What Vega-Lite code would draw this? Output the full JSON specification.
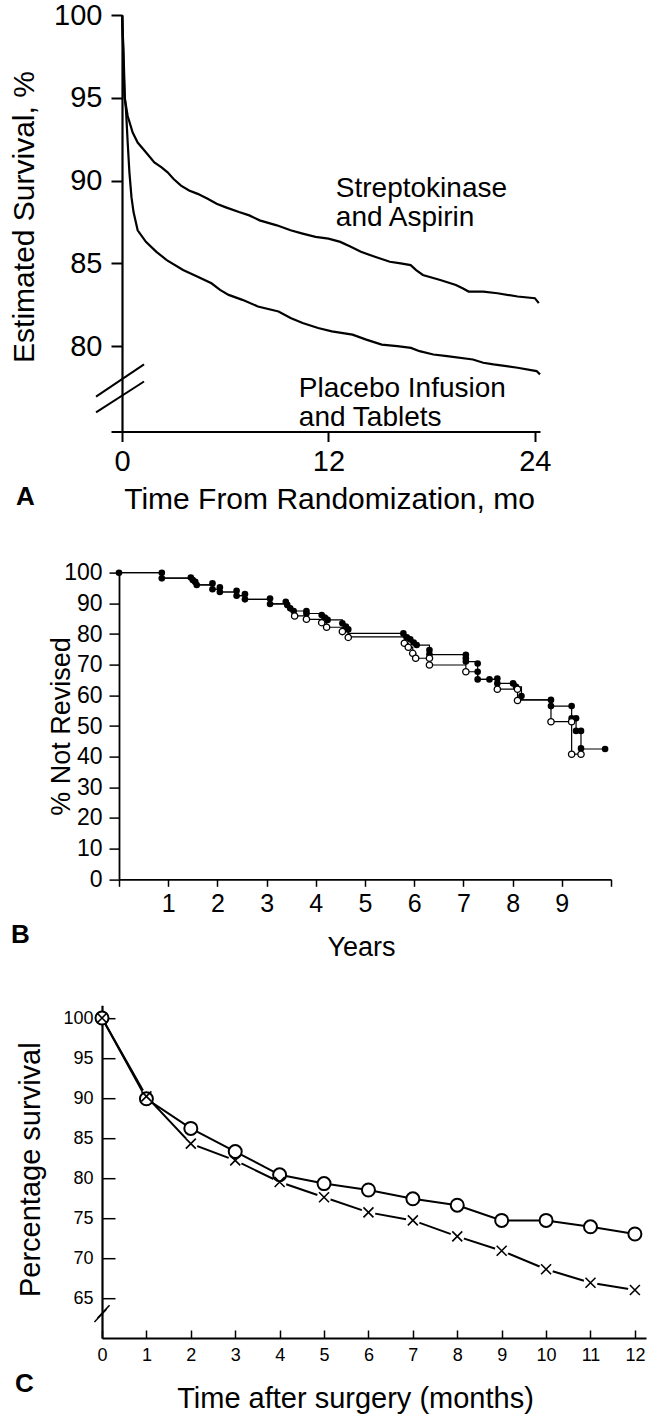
{
  "$schema": "https://vega.github.io/schema/vega-lite/v6.json",
  "padding": {"left": 8, "top": 1, "right": 4, "bottom": 4},
  "background": "white",
  "bounds": "flush",
  "spacing": 125.6,
  "config": {
    "view": {"stroke": null},
    "axis": {"grid": false, "domainColor": "#000", "tickColor": "#000", "labelColor": "#000", "titleColor": "#000", "labelFont": "Liberation Sans", "titleFont": "Liberation Sans", "titleFontWeight": "normal", "labelOverlap": false, "labelFlush": false},
    "title": {"font": "Liberation Sans", "color": "#000"},
    "text": {"font": "Liberation Sans", "color": "#000"}
  },
  "datasets": {
    "a_curves": [
      {"series": "Streptokinase and Aspirin", "t": 0, "v": 100}, {"series": "Streptokinase and Aspirin", "t": 0.05, "v": 98.5}, {"series": "Streptokinase and Aspirin", "t": 0.14, "v": 95.1}, {"series": "Streptokinase and Aspirin", "t": 0.33, "v": 93.9}, {"series": "Streptokinase and Aspirin", "t": 0.62, "v": 92.9}, {"series": "Streptokinase and Aspirin", "t": 0.91, "v": 92.3}, {"series": "Streptokinase and Aspirin", "t": 1.4, "v": 91.7}, {"series": "Streptokinase and Aspirin", "t": 1.88, "v": 91.1}, {"series": "Streptokinase and Aspirin", "t": 2.3, "v": 90.8}, {"series": "Streptokinase and Aspirin", "t": 2.65, "v": 90.5}, {"series": "Streptokinase and Aspirin", "t": 3.0, "v": 90.1}, {"series": "Streptokinase and Aspirin", "t": 3.43, "v": 89.7}, {"series": "Streptokinase and Aspirin", "t": 3.9, "v": 89.4}, {"series": "Streptokinase and Aspirin", "t": 4.4, "v": 89.2}, {"series": "Streptokinase and Aspirin", "t": 4.98, "v": 88.9}, {"series": "Streptokinase and Aspirin", "t": 5.5, "v": 88.6}, {"series": "Streptokinase and Aspirin", "t": 6.0, "v": 88.4}, {"series": "Streptokinase and Aspirin", "t": 6.8, "v": 88.1}, {"series": "Streptokinase and Aspirin", "t": 7.4, "v": 87.9}, {"series": "Streptokinase and Aspirin", "t": 8.0, "v": 87.6}, {"series": "Streptokinase and Aspirin", "t": 9.0, "v": 87.3}, {"series": "Streptokinase and Aspirin", "t": 9.8, "v": 87.0}, {"series": "Streptokinase and Aspirin", "t": 10.5, "v": 86.8}, {"series": "Streptokinase and Aspirin", "t": 11.25, "v": 86.6}, {"series": "Streptokinase and Aspirin", "t": 12.0, "v": 86.5}, {"series": "Streptokinase and Aspirin", "t": 12.69, "v": 86.3}, {"series": "Streptokinase and Aspirin", "t": 13.3, "v": 86.0}, {"series": "Streptokinase and Aspirin", "t": 13.89, "v": 85.7}, {"series": "Streptokinase and Aspirin", "t": 14.7, "v": 85.4}, {"series": "Streptokinase and Aspirin", "t": 15.57, "v": 85.1}, {"series": "Streptokinase and Aspirin", "t": 16.2, "v": 85.0}, {"series": "Streptokinase and Aspirin", "t": 16.78, "v": 84.9}, {"series": "Streptokinase and Aspirin", "t": 17.1, "v": 84.6}, {"series": "Streptokinase and Aspirin", "t": 17.49, "v": 84.3}, {"series": "Streptokinase and Aspirin", "t": 18.5, "v": 84.0}, {"series": "Streptokinase and Aspirin", "t": 19.41, "v": 83.7}, {"series": "Streptokinase and Aspirin", "t": 19.8, "v": 83.5}, {"series": "Streptokinase and Aspirin", "t": 20.15, "v": 83.3}, {"series": "Streptokinase and Aspirin", "t": 21.0, "v": 83.3}, {"series": "Streptokinase and Aspirin", "t": 21.83, "v": 83.2}, {"series": "Streptokinase and Aspirin", "t": 23.0, "v": 83.0}, {"series": "Streptokinase and Aspirin", "t": 24.0, "v": 82.9}, {"series": "Streptokinase and Aspirin", "t": 24.23, "v": 82.6},
      {"series": "Placebo Infusion and Tablets", "t": 0, "v": 100}, {"series": "Placebo Infusion and Tablets", "t": 0.08, "v": 98.0}, {"series": "Placebo Infusion and Tablets", "t": 0.17, "v": 94.9}, {"series": "Placebo Infusion and Tablets", "t": 0.23, "v": 94.3}, {"series": "Placebo Infusion and Tablets", "t": 0.33, "v": 92.3}, {"series": "Placebo Infusion and Tablets", "t": 0.43, "v": 90.5}, {"series": "Placebo Infusion and Tablets", "t": 0.55, "v": 89.0}, {"series": "Placebo Infusion and Tablets", "t": 0.67, "v": 88.1}, {"series": "Placebo Infusion and Tablets", "t": 0.91, "v": 87.0}, {"series": "Placebo Infusion and Tablets", "t": 1.39, "v": 86.3}, {"series": "Placebo Infusion and Tablets", "t": 2.0, "v": 85.7}, {"series": "Placebo Infusion and Tablets", "t": 2.6, "v": 85.2}, {"series": "Placebo Infusion and Tablets", "t": 3.55, "v": 84.6}, {"series": "Placebo Infusion and Tablets", "t": 4.4, "v": 84.2}, {"series": "Placebo Infusion and Tablets", "t": 5.2, "v": 83.8}, {"series": "Placebo Infusion and Tablets", "t": 5.7, "v": 83.4}, {"series": "Placebo Infusion and Tablets", "t": 6.2, "v": 83.1}, {"series": "Placebo Infusion and Tablets", "t": 7.0, "v": 82.8}, {"series": "Placebo Infusion and Tablets", "t": 7.9, "v": 82.4}, {"series": "Placebo Infusion and Tablets", "t": 9.1, "v": 82.1}, {"series": "Placebo Infusion and Tablets", "t": 9.8, "v": 81.7}, {"series": "Placebo Infusion and Tablets", "t": 10.5, "v": 81.4}, {"series": "Placebo Infusion and Tablets", "t": 11.4, "v": 81.1}, {"series": "Placebo Infusion and Tablets", "t": 12.2, "v": 80.9}, {"series": "Placebo Infusion and Tablets", "t": 13.4, "v": 80.7}, {"series": "Placebo Infusion and Tablets", "t": 14.2, "v": 80.4}, {"series": "Placebo Infusion and Tablets", "t": 15.1, "v": 80.1}, {"series": "Placebo Infusion and Tablets", "t": 16.0, "v": 80.0}, {"series": "Placebo Infusion and Tablets", "t": 16.8, "v": 79.9}, {"series": "Placebo Infusion and Tablets", "t": 17.3, "v": 79.7}, {"series": "Placebo Infusion and Tablets", "t": 18.1, "v": 79.5}, {"series": "Placebo Infusion and Tablets", "t": 18.9, "v": 79.4}, {"series": "Placebo Infusion and Tablets", "t": 20.4, "v": 79.2}, {"series": "Placebo Infusion and Tablets", "t": 21.0, "v": 79.0}, {"series": "Placebo Infusion and Tablets", "t": 21.6, "v": 78.9}, {"series": "Placebo Infusion and Tablets", "t": 23.0, "v": 78.7}, {"series": "Placebo Infusion and Tablets", "t": 24.1, "v": 78.5}, {"series": "Placebo Infusion and Tablets", "t": 24.3, "v": 78.3}
    ],
    "b_lines": [
      {"group": "filled", "year": 0, "v": 100}, {"group": "filled", "year": 0.87, "v": 98.2}, {"group": "filled", "year": 1.46, "v": 97.6}, {"group": "filled", "year": 1.55, "v": 96.0}, {"group": "filled", "year": 1.9, "v": 94.6}, {"group": "filled", "year": 2.05, "v": 93.7}, {"group": "filled", "year": 2.39, "v": 92.5}, {"group": "filled", "year": 2.56, "v": 91.3}, {"group": "filled", "year": 3.07, "v": 89.8}, {"group": "filled", "year": 3.39, "v": 88.9}, {"group": "filled", "year": 3.48, "v": 87.5}, {"group": "filled", "year": 3.81, "v": 86.7}, {"group": "filled", "year": 4.12, "v": 85.8}, {"group": "filled", "year": 4.24, "v": 84.6}, {"group": "filled", "year": 4.54, "v": 82.8}, {"group": "filled", "year": 4.66, "v": 80.2}, {"group": "filled", "year": 5.78, "v": 78.9}, {"group": "filled", "year": 5.92, "v": 77.2}, {"group": "filled", "year": 6.05, "v": 76.4}, {"group": "filled", "year": 6.31, "v": 73.3}, {"group": "filled", "year": 7.05, "v": 71.0}, {"group": "filled", "year": 7.29, "v": 65.2}, {"group": "filled", "year": 7.69, "v": 63.9}, {"group": "filled", "year": 8.07, "v": 62.8}, {"group": "filled", "year": 8.18, "v": 58.5}, {"group": "filled", "year": 8.78, "v": 56.5}, {"group": "filled", "year": 9.2, "v": 52.5}, {"group": "filled", "year": 9.29, "v": 48.4}, {"group": "filled", "year": 9.39, "v": 42.5}, {"group": "filled", "year": 9.88, "v": 42.5},
      {"group": "open", "year": 0, "v": 100}, {"group": "open", "year": 0.87, "v": 98.2}, {"group": "open", "year": 1.46, "v": 97.6}, {"group": "open", "year": 1.55, "v": 96.0}, {"group": "open", "year": 1.9, "v": 94.6}, {"group": "open", "year": 2.05, "v": 93.7}, {"group": "open", "year": 2.39, "v": 92.5}, {"group": "open", "year": 2.56, "v": 91.3}, {"group": "open", "year": 3.07, "v": 89.8}, {"group": "open", "year": 3.39, "v": 88.9}, {"group": "open", "year": 3.48, "v": 87.5}, {"group": "open", "year": 3.57, "v": 85.9}, {"group": "open", "year": 3.81, "v": 84.8}, {"group": "open", "year": 4.12, "v": 83.7}, {"group": "open", "year": 4.22, "v": 82.2}, {"group": "open", "year": 4.54, "v": 80.8}, {"group": "open", "year": 4.66, "v": 79.1}, {"group": "open", "year": 5.8, "v": 77.0}, {"group": "open", "year": 5.88, "v": 75.7}, {"group": "open", "year": 5.97, "v": 73.7}, {"group": "open", "year": 6.03, "v": 72.1}, {"group": "open", "year": 6.31, "v": 69.9}, {"group": "open", "year": 7.05, "v": 67.7}, {"group": "open", "year": 7.29, "v": 65.2}, {"group": "open", "year": 7.69, "v": 62.0}, {"group": "open", "year": 8.1, "v": 58.5}, {"group": "open", "year": 8.78, "v": 51.4}, {"group": "open", "year": 9.2, "v": 40.8}, {"group": "open", "year": 9.39, "v": 40.8}
    ],
    "b_filled": [
      {"year": 0, "v": 100}, {"year": 0.87, "v": 100}, {"year": 0.87, "v": 98.15}, {"year": 1.46, "v": 98.4}, {"year": 1.5, "v": 97.6}, {"year": 1.55, "v": 97.0}, {"year": 1.58, "v": 96.0}, {"year": 1.9, "v": 96.5}, {"year": 1.9, "v": 94.6}, {"year": 2.05, "v": 95.2}, {"year": 2.05, "v": 93.7}, {"year": 2.39, "v": 94.1}, {"year": 2.39, "v": 92.5}, {"year": 2.56, "v": 93.0}, {"year": 2.56, "v": 91.3}, {"year": 3.07, "v": 91.6}, {"year": 3.07, "v": 89.8}, {"year": 3.39, "v": 90.5}, {"year": 3.42, "v": 89.5}, {"year": 3.48, "v": 88.4}, {"year": 3.55, "v": 87.5}, {"year": 3.81, "v": 87.5}, {"year": 3.81, "v": 86.7}, {"year": 4.12, "v": 86.2}, {"year": 4.18, "v": 85.4}, {"year": 4.24, "v": 84.6}, {"year": 4.54, "v": 83.5}, {"year": 4.61, "v": 82.4}, {"year": 4.66, "v": 81.5}, {"year": 5.78, "v": 80.2}, {"year": 5.85, "v": 78.9}, {"year": 5.92, "v": 78.3}, {"year": 5.99, "v": 77.2}, {"year": 6.05, "v": 76.4}, {"year": 6.31, "v": 74.8}, {"year": 6.31, "v": 73.4}, {"year": 7.05, "v": 73.2}, {"year": 7.05, "v": 72.1}, {"year": 7.05, "v": 71.0}, {"year": 7.29, "v": 70.4}, {"year": 7.29, "v": 67.7}, {"year": 7.29, "v": 65.2}, {"year": 7.53, "v": 65.2}, {"year": 7.69, "v": 65.5}, {"year": 7.69, "v": 63.9}, {"year": 8.01, "v": 63.9}, {"year": 8.07, "v": 62.8}, {"year": 8.18, "v": 59.8}, {"year": 8.78, "v": 58.5}, {"year": 8.78, "v": 56.5}, {"year": 9.2, "v": 56.5}, {"year": 9.2, "v": 52.5}, {"year": 9.29, "v": 52.5}, {"year": 9.29, "v": 48.4}, {"year": 9.39, "v": 48.4}, {"year": 9.39, "v": 42.7}, {"year": 9.88, "v": 42.5}
    ],
    "b_open": [
      {"year": 3.57, "v": 85.9}, {"year": 3.81, "v": 84.8}, {"year": 4.12, "v": 83.7}, {"year": 4.22, "v": 82.2}, {"year": 4.54, "v": 80.8}, {"year": 4.66, "v": 78.9}, {"year": 5.8, "v": 77.0}, {"year": 5.88, "v": 75.7}, {"year": 5.97, "v": 73.7}, {"year": 6.03, "v": 72.1}, {"year": 6.31, "v": 72.1}, {"year": 6.31, "v": 69.9}, {"year": 7.05, "v": 67.7}, {"year": 7.69, "v": 62.0}, {"year": 8.1, "v": 62.0}, {"year": 8.1, "v": 58.3}, {"year": 8.78, "v": 51.4}, {"year": 9.2, "v": 51.4}, {"year": 9.2, "v": 40.8}, {"year": 9.39, "v": 40.8}
    ],
    "c_points": [
      {"group": "circle", "t": 0, "v": 100}, {"group": "circle", "t": 1, "v": 89.9}, {"group": "circle", "t": 2, "v": 86.2}, {"group": "circle", "t": 3, "v": 83.3}, {"group": "circle", "t": 4, "v": 80.4}, {"group": "circle", "t": 5, "v": 79.3}, {"group": "circle", "t": 6, "v": 78.5}, {"group": "circle", "t": 7, "v": 77.4}, {"group": "circle", "t": 8, "v": 76.6}, {"group": "circle", "t": 9, "v": 74.7}, {"group": "circle", "t": 10, "v": 74.7}, {"group": "circle", "t": 11, "v": 73.9}, {"group": "circle", "t": 12, "v": 73.0},
      {"group": "cross", "t": 0, "v": 100}, {"group": "cross", "t": 1, "v": 90.2}, {"group": "cross", "t": 2, "v": 84.3}, {"group": "cross", "t": 3, "v": 82.2}, {"group": "cross", "t": 4, "v": 79.5}, {"group": "cross", "t": 5, "v": 77.6}, {"group": "cross", "t": 6, "v": 75.7}, {"group": "cross", "t": 7, "v": 74.7}, {"group": "cross", "t": 8, "v": 72.7}, {"group": "cross", "t": 9, "v": 70.9}, {"group": "cross", "t": 10, "v": 68.6}, {"group": "cross", "t": 11, "v": 66.9}, {"group": "cross", "t": 12, "v": 66.0}
    ]
  },
  "vconcat": [
    {
      "width": 440,
      "height": 416.5,
      "title": {"text": "A", "orient": "bottom", "anchor": "start", "frame": "group", "dx": -86, "offset": -31, "fontSize": 26, "fontWeight": "bold"},
      "layer": [
        {
          "data": {"name": "a_curves"},
          "mark": {"type": "line", "stroke": "#000", "strokeWidth": 2.2, "interpolate": "linear"},
          "encoding": {
            "x": {"field": "t", "type": "quantitative", "scale": {"domain": [-0.64, 24.3], "range": [9, 438], "nice": false, "zero": false},
                  "axis": {"values": [0, 12, 24], "title": "Time From Randomization, mo", "titleX": 227, "titleY": 68, "titleBaseline": "middle", "titleFontSize": 30, "labelFontSize": 29, "tickSize": 10, "tickWidth": 2, "domainWidth": 2.2, "labelPadding": 6}},
            "y": {"field": "v", "type": "quantitative", "scale": {"domain": [74.85, 100], "nice": false, "zero": false},
                  "axis": {"values": [80, 85, 90, 95, 100], "offset": -20, "title": "Estimated Survival, %", "titleX": -98, "titleY": 201.5, "titleBaseline": "middle", "titleAlign": "center", "titleFontSize": 30, "labelFontSize": 29, "tickSize": 11, "tickWidth": 2, "domainWidth": 2.2, "labelPadding": 9}},
            "detail": {"field": "series", "type": "nominal"}
          }
        },
        {
          "data": {"values": [{}]},
          "mark": {"type": "text", "text": ["Streptokinase", "and Aspirin"], "align": "left", "baseline": "alphabetic", "fontSize": 28, "lineHeight": 29},
          "encoding": {"x": {"datum": 12.43}, "y": {"datum": 88.98}}
        },
        {
          "data": {"values": [{}]},
          "mark": {"type": "text", "text": ["Placebo Infusion", "and Tablets"], "align": "left", "baseline": "alphabetic", "fontSize": 28, "lineHeight": 29},
          "encoding": {"x": {"datum": 10.28}, "y": {"datum": 76.96}}
        },
        {
          "data": {"values": [{}]},
          "mark": {"type": "rule", "stroke": "#000", "strokeWidth": 2},
          "encoding": {"x": {"datum": -1.51}, "x2": {"datum": 1.28}, "y": {"datum": 76.96}, "y2": {"datum": 78.9}}
        },
        {
          "data": {"values": [{}]},
          "mark": {"type": "rule", "stroke": "#000", "strokeWidth": 2},
          "encoding": {"x": {"datum": -1.51}, "x2": {"datum": 1.28}, "y": {"datum": 76.0}, "y2": {"datum": 77.87}}
        }
      ]
    },
    {
      "width": 544,
      "height": 321.7,
      "title": {"text": "B", "orient": "bottom", "anchor": "start", "frame": "group", "dx": -91, "offset": -38, "fontSize": 26, "fontWeight": "bold"},
      "encoding": {
        "x": {"field": "year", "type": "quantitative", "scale": {"domain": [0, 10], "range": [17, 509], "nice": false, "zero": false},
              "axis": {"values": [0, 1, 2, 3, 4, 5, 6, 7, 8, 9, 10], "labelExpr": "datum.value == 0 || datum.value == 10 ? '' : datum.label", "labelOverlap": false, "title": "Years", "titleX": 259, "titleY": 67.7, "titleBaseline": "middle", "titleFontSize": 27, "labelFontSize": 25, "tickSize": 7, "tickWidth": 1.5, "domainWidth": 1.8, "labelPadding": 5}},
        "y": {"field": "v", "type": "quantitative", "scale": {"domain": [0, 100], "range": [321.7, 15.1], "nice": false, "zero": false},
              "axis": {"values": [0, 10, 20, 30, 40, 50, 60, 70, 80, 90, 100], "labelOverlap": false, "offset": -17, "title": "% Not Revised", "titleX": -58, "titleY": 168.4, "titleBaseline": "middle", "titleAlign": "center", "titleFontSize": 27, "labelFontSize": 23, "tickSize": 10, "tickWidth": 1.5, "domainWidth": 1.8, "labelPadding": 7}}
      },
      "layer": [
        {
          "data": {"name": "b_lines"},
          "mark": {"type": "line", "stroke": "#000", "strokeWidth": 1.2, "interpolate": "step-after"},
          "encoding": {"detail": {"field": "group", "type": "nominal"}}
        },
        {
          "data": {"name": "b_filled"},
          "mark": {"type": "point", "shape": "circle", "filled": true, "fill": "#000", "size": 44, "opacity": 1}
        },
        {
          "data": {"name": "b_open"},
          "mark": {"type": "point", "shape": "circle", "filled": true, "fill": "#fff", "stroke": "#000", "strokeWidth": 1.3, "size": 40, "opacity": 1}
        }
      ]
    },
    {
      "width": 544,
      "height": 332.8,
      "title": {"text": "C", "orient": "bottom", "anchor": "start", "frame": "group", "dx": -87, "offset": -43, "fontSize": 26, "fontWeight": "bold"},
      "layer": [
        {
          "encoding": {
            "x": {"field": "t", "type": "quantitative", "scale": {"domain": [0, 12.25], "range": [0, 544], "nice": false, "zero": false},
                  "axis": {"values": [0, 1, 2, 3, 4, 5, 6, 7, 8, 9, 10, 11, 12], "labelOverlap": false, "title": "Time after surgery (months)", "titleX": 253, "titleY": 60.8, "titleBaseline": "middle", "titleFontSize": 29, "labelFontSize": 18, "tickSize": -8, "tickWidth": 1.5, "domainWidth": 2.2, "labelPadding": 16}},
            "y": {"field": "v", "type": "quantitative", "scale": {"domain": [60, 101.6], "nice": false, "zero": false},
                  "axis": {"values": [65, 70, 75, 80, 85, 90, 95, 100], "labelOverlap": false, "title": "Percentage survival", "titleX": -71.5, "titleY": 164, "titleBaseline": "middle", "titleAlign": "center", "titleFontSize": 29, "labelFontSize": 18, "tickSize": -13, "tickWidth": 1.5, "domainWidth": 2.2, "labelPadding": 22}}
          },
          "layer": [
            {
              "data": {"name": "c_points"},
              "mark": {"type": "line", "stroke": "#000", "strokeWidth": 2},
              "encoding": {"detail": {"field": "group", "type": "nominal"}}
            },
            {
              "data": {"name": "c_points"},
              "transform": [{"filter": "datum.group == 'cross' && datum.t > 0"}],
              "mark": {"type": "point", "shape": "circle", "filled": true, "fill": "#fff", "size": 196, "opacity": 1}
            },
            {
              "data": {"name": "c_points"},
              "transform": [{"filter": "datum.group == 'circle'"}],
              "mark": {"type": "point", "shape": "circle", "filled": true, "fill": "#fff", "stroke": "#000", "strokeWidth": 2, "size": 169, "opacity": 1}
            },
            {
              "data": {"name": "c_points"},
              "transform": [{"filter": "datum.group == 'cross'"}],
              "mark": {"type": "point", "shape": "M-1,-1L1,1M-1,1L1,-1", "filled": false, "stroke": "#000", "strokeWidth": 1.6, "size": 100, "opacity": 1}
            }
          ]
        },
        {
          "data": {"values": [{}]},
          "mark": {"type": "rule", "stroke": "#000", "strokeWidth": 1.5},
          "encoding": {"x": {"datum": -0.17}, "x2": {"datum": 0.1}, "y": {"datum": 62.0}, "y2": {"datum": 63.6}}
        },
        {
          "data": {"values": [{}]},
          "mark": {"type": "rule", "stroke": "#000", "strokeWidth": 1.5},
          "encoding": {"x": {"datum": -0.1}, "x2": {"datum": 0.17}, "y": {"datum": 62.5}, "y2": {"datum": 64.1}}
        }
      ]
    }
  ]
}
